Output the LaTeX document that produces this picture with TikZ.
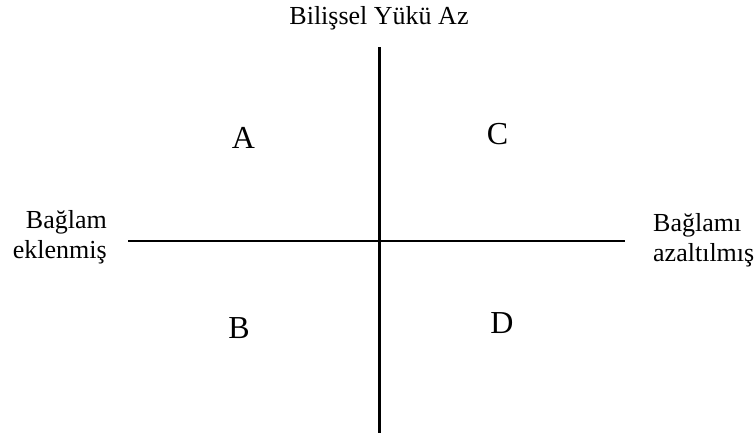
\documentclass[tikz,border=0pt]{standalone}
\usepackage{fontspec}
\setmainfont{Liberation Serif}
\begin{document}
\begin{tikzpicture}[x=1pt,y=-1pt,
  axis/.style={line width=2.2pt,black},
  lbl/.style={inner sep=0pt,font=\fontsize{26}{29.5}\selectfont},
  quad/.style={inner sep=0pt,font=\fontsize{32}{36}\selectfont}]
\useasboundingbox (0,0) rectangle (756,434);
\coordinate (top) at (379.5,47);
\coordinate (bot) at (379.5,433);
\coordinate (lft) at (128,241);
\coordinate (rgt) at (625,241);
\draw[axis] (top) -- (bot);
\draw[axis] (lft) -- (rgt);
\node[lbl,anchor=base] (title) at (379,24) {Bilişsel Yükü Az};
\node[lbl,anchor=east,align=right] (left) at (107,237) {Bağlam\\eklenmiş};
\node[lbl,anchor=west,align=left] (right) at (653,240) {Bağlamı\\azaltılmış};
\node[quad] (A) at (243.5,138) {A};
\node[quad] (C) at (497.5,134) {C};
\node[quad] (B) at (239,328.5) {B};
\node[quad] (D) at (502,323) {D};
\end{tikzpicture}
\end{document}
